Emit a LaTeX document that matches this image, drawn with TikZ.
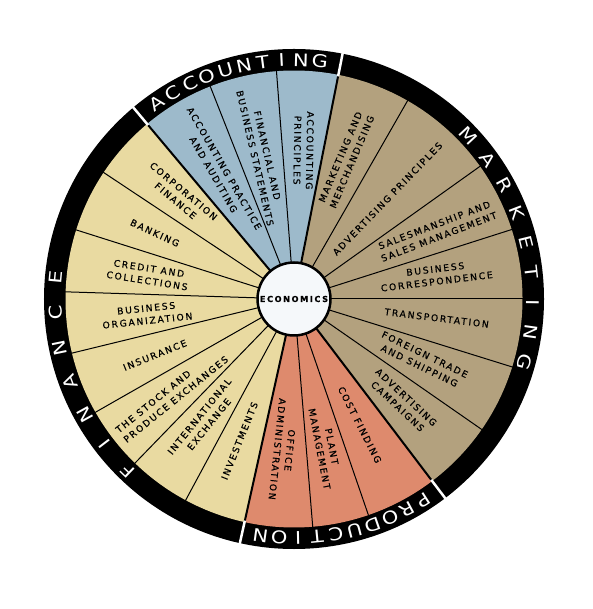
\documentclass[tikz,border=0pt]{standalone}
\usepackage{fontspec}
\newfontfamily\wheelfont[LetterSpace=19,FakeBold=0.6]{DejaVu Sans}
\newfontfamily\ringfont[FakeStretch=1.2]{DejaVu Sans}
\usetikzlibrary{calc}

\definecolor{acctblue}{HTML}{9DBACB}
\definecolor{markettan}{HTML}{B3A17E}
\definecolor{financeyellow}{HTML}{E9DAA1}
\definecolor{prodsalmon}{HTML}{DE8A6D}
\definecolor{hubwhite}{HTML}{F5F8FA}

\begin{document}
\begin{tikzpicture}[x=1pt,y=1pt,
        topic/.style={font=\wheelfont\fontsize{9.2}{12.5}\selectfont,align=center,inner sep=0pt},
        ringletter/.style={font=\ringfont\fontsize{17.5}{17.5}\selectfont,text=white,inner sep=0pt},
        spoke/.style={line width=1pt},
        border/.style={line width=2pt}]
    \useasboundingbox (-294,-310) rectangle (298,299);

    % Outer ring
    \fill[black,even odd rule] (0,0) circle (250) (0,0) circle (228);

    % Sectors
    \fill[acctblue] (0,0) -- (78.8:228.5) arc[start angle=78.8,end angle=130,radius=228.5] -- cycle;
    \fill[financeyellow] (0,0) -- (130:228.5) arc[start angle=130,end angle=257.5,radius=228.5] -- cycle;
    \fill[prodsalmon] (0,0) -- (257.5:228.5) arc[start angle=257.5,end angle=307.2,radius=228.5] -- cycle;
    \fill[markettan] (0,0) -- (-52.8:228.5) arc[start angle=-52.8,end angle=78.8,radius=228.5] -- cycle;

    % Spokes
    \foreach \a in {94.4,111.5,146.4,162.4,178.2,193.7,209.7,225.9,241.7,274.7,289,60.2,35.5,17.7,0,-17.3,-34.8}
        \draw[spoke] (\a:30) -- (\a:229);
    \foreach \a in {78.8,130,257.5,307.2}
        \draw[border] (\a:30) -- (\a:229);
    % gaps in the ring
    \foreach \a in {78.8,130,257.5,307.2}
        \draw[white,line width=2.5pt] (\a:227) -- (\a:252);

    % Hub
    \node[circle,draw,line width=2.5pt,fill=hubwhite,minimum size=73pt,inner sep=0pt,
        font=\wheelfont\bfseries\fontsize{8.2}{10}\selectfont] (hub) at (0,0) {ECONOMICS};

    % Ring titles
    \foreach \ch [count=\i from 0, evaluate=\i as \a using 125-4.58*\i] in {A,C,C,O,U,N,T,I,N,G}
        \node[ringletter,rotate=\a-90] (acct\i) at (\a:239) {\ch};
    \foreach \ch [count=\i from 0, evaluate=\i as \a using 43-7.3*\i] in {M,A,R,K,E,T,I,N,G}
        \node[ringletter,rotate=\a-90] (mark\i) at (\a:239) {\ch};
    \foreach \ch [count=\i from 0, evaluate=\i as \a using 302.8-4.54*\i] in {P,R,O,D,U,C,T,I,O,N}
        \node[ringletter,rotate=\a-90] (prod\i) at (\a:239) {\ch};
    \foreach \ch [count=\i from 0, evaluate=\i as \a using 226-8.55*\i] in {F,I,N,A,N,C,E}
        \node[ringletter,rotate=\a-90] (fin\i) at (\a:239) {\ch};

    % Accounting
    \node[topic,rotate=-91] (principles) at (86.3:149) {ACCOUNTING\\PRINCIPLES};
    \node[topic,rotate=-77] (statements) at (103:146) {FINANCIAL AND\\BUSINESS STATEMENTS};
    \node[topic,rotate=-60] (practice) at (120.5:148) {ACCOUNTING PRACTICE\\AND AUDITING};

    % Marketing
    \node[topic,rotate=67] (merch) at (69.5:149) {MARKETING AND\\MERCHANDISING};
    \node[topic,rotate=46] (advprin) at (47:137) {ADVERTISING PRINCIPLES};
    \node[topic,rotate=21] (sales) at (25.5:158) {SALESMANSHIP AND\\SALES MANAGEMENT};
    \node[topic,rotate=7] (corresp) at (9.5:144) {BUSINESS\\CORRESPONDENCE};
    \node[topic,rotate=-7] (transport) at (-7.6:144) {TRANSPORTATION};
    \node[topic,rotate=-26] (foreign) at (-25.5:142) {FOREIGN TRADE\\AND SHIPPING};
    \node[topic,rotate=-43] (campaigns) at (-43.6:149) {ADVERTISING\\CAMPAIGNS};

    % Production
    \node[topic,rotate=-63] (cost) at (297.6:142) {COST FINDING};
    \node[topic,rotate=-79] (plant) at (282:152) {PLANT\\MANAGEMENT};
    \node[topic,rotate=-96] (office) at (266:151) {OFFICE\\ADMINISTRATION};

    % Finance
    \node[topic,rotate=-40] (corp) at (138:154) {CORPORATION\\FINANCE};
    \node[topic,rotate=-25] (banking) at (154.6:154) {BANKING};
    \node[topic,rotate=-9] (credit) at (170.5:148) {CREDIT AND\\COLLECTIONS};
    \node[topic,rotate=6] (organization) at (186:148) {BUSINESS\\ORGANIZATION};
    \node[topic,rotate=22] (insurance) at (202:150) {INSURANCE};
    \node[topic,rotate=39,align=left] (stock) at (218:155) {THE STOCK AND\\PRODUCE EXCHANGES};
    \node[topic,rotate=51] (intl) at (233.5:151) {INTERNATIONAL\\EXCHANGE};
    \node[topic,rotate=68] (invest) at (249:152) {INVESTMENTS};
\end{tikzpicture}
\end{document}
